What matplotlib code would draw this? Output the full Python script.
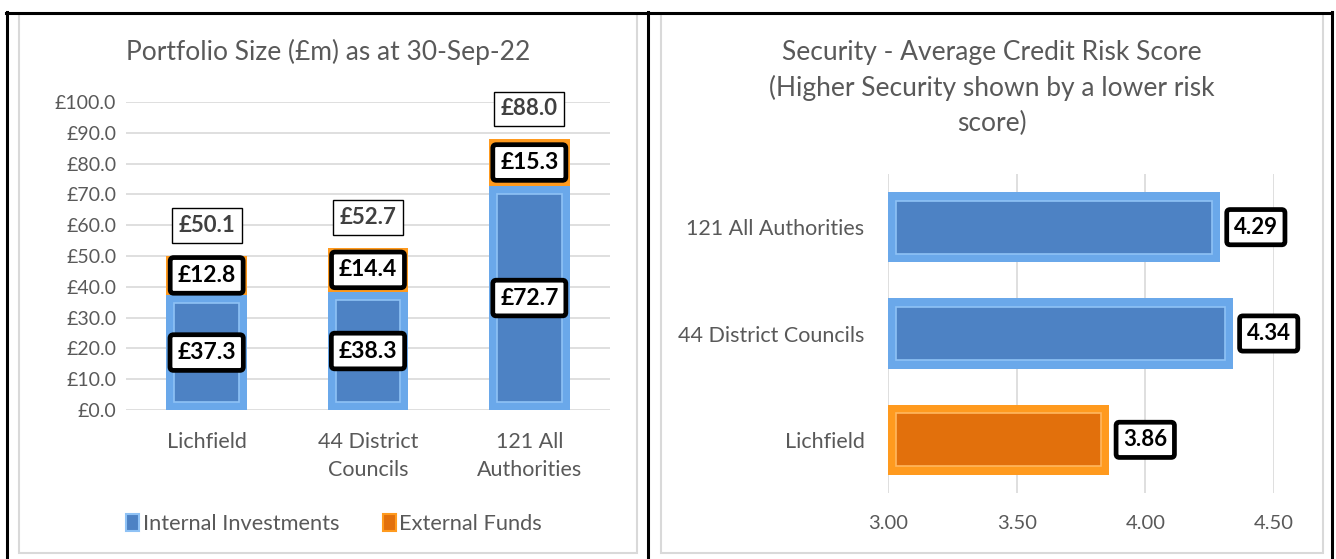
import matplotlib.pyplot as plt
from matplotlib.patches import Rectangle, Patch
from matplotlib.lines import Line2D

plt.rcParams['font.family'] = ['Lato', 'DejaVu Sans']

W, H = 1336, 559

# portfolio size data
groups = ["Lichfield", "44 District\nCouncils", "121 All\nAuthorities"]
internal = [37.3, 38.3, 72.7]
external = [12.8, 14.4, 15.3]
totals = [50.1, 52.7, 88.0]
yticks = [0, 10, 20, 30, 40, 50, 60, 70, 80, 90, 100]

# credit risk score data
risk_names = ["Lichfield", "44 District Councils", "121 All Authorities"]
risk_scores = [3.86, 4.34, 4.29]
xticks_risk = [3.0, 3.5, 4.0, 4.5]

GREY_TXT = '#595959'
BLUE_OUT, BLUE_IN, BLUE_EDGE = '#6aa8ea', '#4d82c4', '#8fc2f5'
ORANGE_OUT, ORANGE_IN, ORANGE_EDGE = '#ff9a1e', '#e2700c', '#ffb860'


def px(x, y):
    return x / W, 1 - y / H


def bevel_vbar(ax, x, height, bottom, width, outc, inc, edgec):
    ax.bar(x, height, width, bottom=bottom, color=outc, zorder=2)
    inset = 2.5
    inner_b = [b + inset for b in bottom]
    inner_h = [max(h - 2 * inset, 0) for h in height]
    ax.bar(x, inner_h, width * 0.8, bottom=inner_b, color=inc,
           edgecolor=edgec, linewidth=1.2, zorder=3)


fig = plt.figure(figsize=(W / 100, H / 100), dpi=100)

# frames
for (x0, y0, x1, y1) in [(19, 14, 637, 553), (661, 14, 1323, 553)]:
    fig.add_artist(Rectangle(px(x0, y1), (x1 - x0) / W, (y1 - y0) / H,
                             transform=fig.transFigure, fill=False,
                             edgecolor='#d9d9d9', linewidth=1.5))
fig.add_artist(Line2D([6 / W, 1332 / W], [1 - 13 / H] * 2, transform=fig.transFigure,
                      color='black', linewidth=2.2))
for xv in [6.5, 648, 1332]:
    fig.add_artist(Line2D([xv / W] * 2, [0, 1 - 12 / H], transform=fig.transFigure,
                          color='black', linewidth=2.2))

# ---- left chart
ax1 = fig.add_axes([126 / W, (H - 410) / H, 484 / W, 308 / H])
xs = list(range(len(groups)))
bevel_vbar(ax1, xs, internal, [0] * 3, 0.5, BLUE_OUT, BLUE_IN, BLUE_EDGE)
bevel_vbar(ax1, xs, external, internal, 0.5, ORANGE_OUT, ORANGE_IN, ORANGE_EDGE)
ax1.set_xlim(-0.5, 2.5)
ax1.set_ylim(0, 100)
ax1.set_yticks(yticks)
ax1.set_yticklabels(["£%.1f" % v for v in yticks])
ax1.set_xticks(xs)
ax1.set_xticklabels(groups, linespacing=1.5)
ax1.grid(axis='y', color='#d9d9d9', linewidth=1.2, zorder=0)
ax1.set_axisbelow(True)
for s in ax1.spines.values():
    s.set_visible(False)
ax1.tick_params(length=0, colors=GREY_TXT)
ax1.tick_params(axis='y', labelsize=14, pad=7)
ax1.tick_params(axis='x', labelsize=15.5, pad=16)

thick = dict(boxstyle='round,pad=0.32,rounding_size=0.15', fc='white', ec='black', lw=3.4)
thin = dict(boxstyle='square,pad=0.3', fc='white', ec='black', lw=1.0)
for i in xs:
    ax1.text(i, internal[i] / 2, "£%.1f" % internal[i], ha='center', va='center',
             fontsize=16.5, fontweight='bold', bbox=thick, zorder=5)
    ax1.text(i, internal[i] + external[i] / 2, "£%.1f" % external[i], ha='center',
             va='center', fontsize=16.5, fontweight='bold', bbox=thick, zorder=5)
    ax1.text(i, totals[i] + 9.8, "£%.1f" % totals[i], ha='center', va='center',
             fontsize=16, fontweight='bold', color='#404040', bbox=thin, zorder=5,
             clip_on=False)

fig.text(*px(328, 52), "Portfolio Size (£m) as at 30-Sep-22", ha='center', va='center',
         fontsize=19, color=GREY_TXT)

handles = [Patch(facecolor=BLUE_IN, edgecolor=BLUE_EDGE, linewidth=1.5),
           Patch(facecolor=ORANGE_IN, edgecolor=ORANGE_OUT, linewidth=1.5)]
leg = fig.legend(handles, ["Internal Investments", "External Funds"], loc='center',
                 bbox_to_anchor=px(334, 524), ncol=2, frameon=False, fontsize=15.7,
                 handlelength=0.6, handleheight=0.8, handletextpad=0.15, columnspacing=2.0)
for t in leg.get_texts():
    t.set_color(GREY_TXT)

# ---- right chart
ax2 = fig.add_axes([888 / W, (H - 493) / H, 386 / W, 319 / H])
ys = list(range(len(risk_names)))
base = xticks_risk[0]
colors_out = [ORANGE_OUT, BLUE_OUT, BLUE_OUT]
colors_in = [ORANGE_IN, BLUE_IN, BLUE_IN]
colors_edge = [ORANGE_EDGE, BLUE_EDGE, BLUE_EDGE]
ax2.barh(ys, [v - base for v in risk_scores], 0.66, left=base, color=colors_out, zorder=2)
inset_x = 0.032
ax2.barh(ys, [v - base - 2 * inset_x for v in risk_scores], 0.5, left=base + inset_x,
         color=colors_in, edgecolor=colors_edge, linewidth=1.2, zorder=3)
ax2.set_xlim(3.0, 4.5)
ax2.set_ylim(-0.5, 2.5)
ax2.set_xticks(xticks_risk)
ax2.set_xticklabels(["%.2f" % v for v in xticks_risk])
ax2.set_yticks(ys)
ax2.set_yticklabels(risk_names)
ax2.grid(axis='x', color='#d9d9d9', linewidth=1.2, zorder=0)
ax2.set_axisbelow(True)
for s in ax2.spines.values():
    s.set_visible(False)
ax2.tick_params(length=0, colors=GREY_TXT)
ax2.tick_params(axis='x', labelsize=14.5, pad=16)
ax2.tick_params(axis='y', labelsize=15.5, pad=17)
for j in ys:
    ax2.annotate("%.2f" % risk_scores[j], (risk_scores[j], j), xytext=(10, 0),
                 textcoords='offset points', ha='left', va='center', fontsize=16,
                 fontweight='bold', bbox=thick, zorder=5, annotation_clip=False)

fig.text(*px(992, 88), "Security - Average Credit Risk Score\n(Higher Security shown by a lower risk\nscore)",
         ha='center', va='center', fontsize=19, color=GREY_TXT, linespacing=1.5)

fig.savefig('out.png', dpi=100)
